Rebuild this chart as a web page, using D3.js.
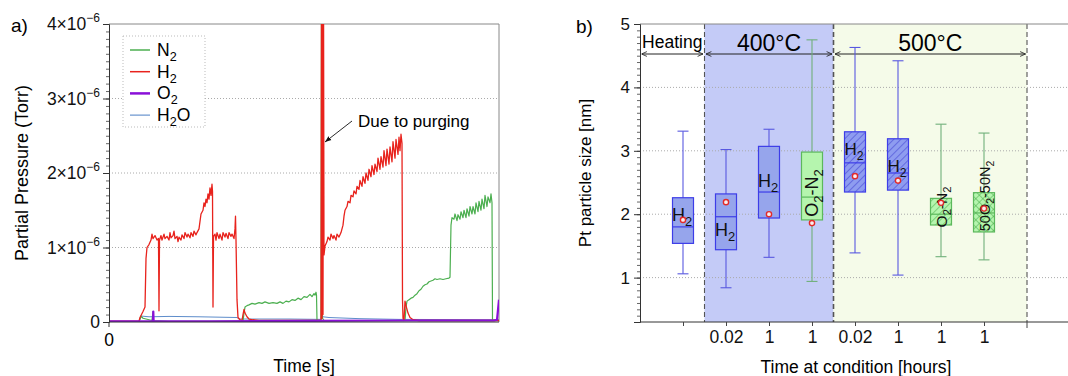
<!DOCTYPE html>
<html>
<head>
<meta charset="utf-8">
<script src="https://cdn.jsdelivr.net/npm/d3@7"></script>
<style>
  body { margin: 0; background: #fff; }
  svg { display: block; font-family: "Liberation Sans", Arial, sans-serif; }
</style>
</head>
<body>
<div id="chart"></div>
<script>
// ---- panel a) data: [time index, pressure in 1e-6 Torr] ----
const h2Series = [[0,0.01],[30,0.01],[31,0.06],[34,0.14],[36,0.2],[37,0.85],[38,1.0],[40,1.04],[42,1.1],[43,1.18],[44,1.12],[46,1.16],[48,1.1],[49.5,1.12],[50,0.15],[50.5,1.1],[52,1.16],[53,1.1],[55,1.18],[56,1.12],[58,1.15],[60,1.1],[61,1.2],[62,1.13],[64,1.16],[65,1.22],[66,1.12],[68,1.15],[69,1.08],[70,1.14],[72,1.1],[73,1.17],[75,1.12],[76,1.2],[78,1.14],[79,1.18],[81,1.13],[82,1.2],[84,1.15],[85,1.22],[87,1.17],[88,1.2],[90,1.25],[91,1.35],[92,1.45],[94,1.5],[95,1.6],[96,1.55],[97,1.65],[98,1.6],[99,1.72],[100,1.65],[101,1.8],[102,1.7],[103,1.85],[103.5,1.75],[104,0.2],[104.5,1.15],[106,1.18],[107,1.1],[108,1.2],[110,1.12],[111,1.18],[113,1.1],[114,1.2],[116,1.14],[117,1.19],[119,1.12],[120,1.2],[122,1.15],[123,1.18],[125,1.12],[126,1.25],[126.5,1.42],[127,1.1],[128,0.3],[129,0.06],[131,0.03],[133,0.02],[134,0.1],[135,0.17],[136,0.12],[138,0.07],[140,0.04],[144,0.03],[150,0.02],[212,0.02],[212.5,4.6],[213,0.05],[213.5,4.6],[214,0.1],[214.5,4.6],[215,0.9],[216,1.02],[218,1.08],[219,1.14],[221,1.1],[222,1.18],[224,1.12],[225,1.16],[227,1.1],[228,1.18],[230,1.14],[232,1.2],[234,1.3],[235,1.42],[236,1.5],[238,1.55],[239,1.62],[241,1.6],[242,1.7],[244,1.68],[245,1.76],[247,1.72],[248,1.82],[250,1.78],[251,1.9],[253,1.82],[254,1.95],[256,1.86],[257,2.0],[259,1.9],[260,2.05],[262,1.95],[263,2.1],[265,1.98],[266,2.12],[268,2.02],[269,2.2],[271,2.05],[272,2.22],[274,2.08],[275,2.3],[277,2.1],[278,2.32],[280,2.12],[281,2.35],[283,2.15],[284,2.42],[286,2.2],[287,2.45],[289,2.25],[290,2.48],[291,2.3],[292,2.52],[293,2.4],[293.5,0.3],[294,0.05],[295,0.02],[296,0.28],[297,0.22],[299,0.12],[301,0.06],[304,0.03],[310,0.02],[390,0.02]];
const n2Series = [[0,0],[30,0],[32,0.08],[34,0.05],[40,0.03],[43,0.02],[44,0.14],[44.5,0.02],[60,0.01],[134,0.01],[135,0.12],[136,0.2],[138,0.22],[140,0.23],[143,0.25],[146,0.24],[150,0.26],[153,0.25],[156,0.27],[160,0.25],[164,0.26],[168,0.25],[171,0.27],[174,0.25],[177,0.28],[180,0.27],[183,0.3],[186,0.29],[189,0.32],[192,0.3],[195,0.34],[198,0.33],[201,0.37],[203,0.34],[205,0.38],[206,0.36],[207,0.4],[207.5,0.36],[208,0.02],[212,0.02],[212.5,4.6],[213,0.3],[213.5,0.05],[215,0.02],[296,0.02],[297,0.2],[298,0.28],[300,0.3],[302,0.32],[304,0.33],[306,0.36],[308,0.38],[310,0.42],[312,0.44],[314,0.48],[316,0.5],[318,0.51],[320,0.54],[322,0.55],[324,0.56],[326,0.58],[328,0.57],[331,0.58],[334,0.57],[337,0.58],[340,0.59],[341,0.6],[342,1.3],[343,1.4],[345,1.38],[346,1.45],[348,1.36],[349,1.44],[351,1.38],[352,1.48],[354,1.4],[355,1.5],[357,1.4],[358,1.52],[360,1.42],[361,1.55],[363,1.45],[364,1.55],[366,1.45],[367,1.6],[369,1.48],[370,1.62],[372,1.5],[373,1.65],[375,1.52],[376,1.7],[378,1.55],[379,1.68],[381,1.6],[382,1.72],[383,1.6],[383.5,0.02],[390,0.02]];
const o2Series = [[0,0.01],[30,0.01],[44,0.01],[44.3,0.14],[44.6,0.01],[100,0.01],[200,0.015],[300,0.02],[385,0.02],[388,0.03],[390,0.3]];
const h2oSeries = [[0,0],[30,0],[32,0.08],[40,0.07],[60,0.075],[90,0.07],[128,0.06],[130,0.04],[180,0.04],[212,0.035],[214,0.07],[220,0.06],[250,0.045],[290,0.035],[390,0.03]];
const gasNames = ["N2", "H2", "O2", "H2O"];
const pressureTicks = [0, 1, 2, 3, 4];

// ---- panel b) data ----
const boxPos = [1, 2, 3, 4, 5, 6, 7, 8];
const boxTimeLabels = ["", "0.02", "1", "1", "0.02", "1", "1", "1"];
const boxGas = ["H2", "H2", "H2", "O2-N2", "H2", "H2", "O2-N2", "50O2-50N2"];
const whiskerLow = [1.06, 0.84, 1.32, 0.94, 1.39, 1.04, 1.33, 1.28];
const q1 = [1.54, 1.44, 1.94, 1.91, 2.35, 2.38, 1.83, 1.72];
const median = [1.80, 1.96, 2.35, 2.27, 2.81, 2.65, 2.00, 2.02];
const q3 = [2.26, 2.32, 3.07, 2.98, 3.30, 3.19, 2.25, 2.34];
const whiskerHigh = [3.31, 3.02, 3.34, 4.75, 4.63, 4.42, 3.42, 3.28];
const meanSize = [1.91, 2.19, 2.00, 1.86, 2.60, 2.53, 2.18, 2.09];
const sizeTicks = [1, 2, 3, 4, 5];
const stages = [{name: "Heating", from: 0, to: 1.5}, {name: "400°C", from: 1.5, to: 4.5}, {name: "500°C", from: 4.5, to: 9}];

const svg = d3.select("#chart").append("svg").attr("width", 1068).attr("height", 376);
const defs = svg.append("defs");

// helper: text with subscript digits (H2 -> H₂ style via tspans)
function chemText(sel, str, size) {
    const parts = str.match(/(\d+|[^\d]+)/g);
    let prevLetter = false;
    parts.forEach((p, i) => {
        const isNum = /^\d+$/.test(p);
        // digits right after a letter are subscripts, leading numbers (50O2) are normal
        const sub = isNum && i > 0 && /[A-Za-z]$/.test(parts[i - 1]);
        const t = sel.append("tspan").text(p);
        if (sub) {
            t.attr("font-size", size * 0.72).attr("dy", size * 0.28);
            prevLetter = true;
        } else if (prevLetter) {
            t.attr("dy", -size * 0.28);
            prevLetter = false;
        }
    });
}

/* ================= panel a ================= */
const xA = d3.scaleLinear().domain([0, 390]).range([109, 499]);
const yA = d3.scaleLinear().domain([0, 4]).range([322, 24]);

const gA = svg.append("g");

// grid
gA.selectAll(".gridA").data([1, 2, 3]).enter().append("line")
    .attr("x1", 109).attr("x2", 499)
    .attr("y1", d => yA(d)).attr("y2", d => yA(d))
    .attr("stroke", "#aaa").attr("stroke-dasharray", "1,2");

// frame
gA.append("line").attr("x1", 109).attr("x2", 499).attr("y1", 24).attr("y2", 24).attr("stroke", "#888");
gA.append("line").attr("x1", 499).attr("x2", 499).attr("y1", 24).attr("y2", 322).attr("stroke", "#888");

defs.append("clipPath").attr("id", "clipA").append("rect")
    .attr("x", 109).attr("y", 24).attr("width", 390).attr("height", 298);

const lineA = d3.line().x(d => xA(d[0])).y(d => yA(d[1]));
const seriesList = [
    {data: h2oSeries, color: "#4b7fc4", w: 0.9},
    {data: n2Series, color: "#4caf50", w: 1.2},
    {data: h2Series, color: "#e8231d", w: 1.3},
    {data: o2Series, color: "#8a10d8", w: 2.2}
];
const linesG = gA.append("g").attr("clip-path", "url(#clipA)");
seriesList.forEach(s => {
    linesG.append("path").datum(s.data).attr("d", lineA)
        .attr("fill", "none").attr("stroke", s.color).attr("stroke-width", s.w)
        .attr("stroke-linejoin", "round");
});

// y axis with minor ticks
gA.append("g").attr("transform", "translate(109,0)")
    .call(d3.axisLeft(yA).tickValues(d3.range(0, 4.001, 0.1)).tickSize(3).tickFormat(""))
    .call(g => g.select(".domain").remove())
    .selectAll("line").attr("stroke", "#666");
const yAxisA = gA.append("g").attr("transform", "translate(109,0)")
    .call(d3.axisLeft(yA).tickValues(pressureTicks).tickSize(6).tickFormat(""));
yAxisA.select(".domain").attr("stroke", "#333");
yAxisA.selectAll("line").attr("stroke", "#333");
pressureTicks.forEach(v => {
    const t = gA.append("text").attr("x", 100).attr("y", yA(v) + 6)
        .attr("text-anchor", "end").attr("font-size", 17.5).attr("fill", "#111");
    if (v === 0) { t.text("0"); return; }
    t.append("tspan").text(v + "×10");
    t.append("tspan").text("−6").attr("font-size", 12).attr("dy", -8);
});

// x axis
gA.append("line").attr("x1", 109).attr("x2", 499).attr("y1", 322).attr("y2", 322).attr("stroke", "#333");
gA.append("line").attr("x1", xA(0)).attr("x2", xA(0)).attr("y1", 322).attr("y2", 327).attr("stroke", "#333");
gA.append("text").attr("x", xA(0)).attr("y", 346).attr("text-anchor", "middle").attr("font-size", 17.5).text("0");
gA.append("text").attr("x", 304).attr("y", 372).attr("text-anchor", "middle").attr("font-size", 17.5).text("Time [s]");
gA.append("text").attr("transform", "translate(28,173) rotate(-90)").attr("text-anchor", "middle")
    .attr("font-size", 18).text("Partial Pressure (Torr)");
gA.append("text").attr("x", 11).attr("y", 32).attr("font-size", 19).text("a)");

// legend
gA.append("rect").attr("x", 123).attr("y", 36).attr("width", 82).attr("height", 91)
    .attr("fill", "#fff").attr("stroke", "#bbb").attr("stroke-dasharray", "1,2");
const legendColors = ["#4caf50", "#e8231d", "#8a10d8", "#4b7fc4"];
const legendW = [1.5, 1.5, 2.5, 1];
gasNames.forEach((g, i) => {
    const y = 50 + i * 21.7;
    gA.append("line").attr("x1", 130).attr("x2", 150).attr("y1", y).attr("y2", y)
        .attr("stroke", legendColors[i]).attr("stroke-width", legendW[i]);
    const t = gA.append("text").attr("x", 157).attr("y", y + 6).attr("font-size", 17.5);
    chemText(t, g, 17.5);
});

// annotation
defs.append("marker").attr("id", "arrA").attr("viewBox", "0 0 10 10").attr("refX", 10).attr("refY", 5)
    .attr("markerWidth", 7).attr("markerHeight", 7).attr("orient", "auto")
    .append("path").attr("d", "M0,1 L10,5 L0,9 Z").attr("fill", "#111");
gA.append("line").attr("x1", 352).attr("y1", 121).attr("x2", 325).attr("y2", 142)
    .attr("stroke", "#111").attr("stroke-width", 0.9).attr("marker-end", "url(#arrA)");
gA.append("text").attr("x", 358).attr("y", 127).attr("font-size", 17).text("Due to purging");

/* ================= panel b ================= */
const xB = d3.scaleLinear().domain([0, 10]).range([640, 1070]);
const yB = d3.scaleLinear().domain([0.3, 5]).range([322, 24]);
const gB = svg.append("g");

// stage shading
const stageFill = ["#ffffff", "#c4cbf7", "#f5fbe9"];
stages.forEach((s, i) => {
    gB.append("rect").attr("x", xB(s.from)).attr("y", 24)
        .attr("width", xB(s.to) - xB(s.from)).attr("height", 298).attr("fill", stageFill[i]);
});

// grid
gB.selectAll(".gridB").data([1, 2, 3, 4]).enter().append("line")
    .attr("x1", 640).attr("x2", 1068)
    .attr("y1", d => yB(d)).attr("y2", d => yB(d))
    .attr("stroke", "#aaa").attr("stroke-dasharray", "1,2");

// dashed boundaries
[1.5, 4.5, 9].forEach(v => {
    gB.append("line").attr("x1", xB(v)).attr("x2", xB(v)).attr("y1", 24).attr("y2", 322)
        .attr("stroke", "#555").attr("stroke-width", v === 4.5 ? 1.6 : 1.1).attr("stroke-dasharray", "5,3");
});

// frame top
gB.append("line").attr("x1", 640).attr("x2", 1068).attr("y1", 24).attr("y2", 24).attr("stroke", "#888");

// stage arrows and titles
defs.append("marker").attr("id", "arrB").attr("viewBox", "0 0 10 10").attr("refX", 10).attr("refY", 5)
    .attr("markerWidth", 6).attr("markerHeight", 6).attr("orient", "auto-start-reverse")
    .append("path").attr("d", "M1,1 L10,5 L1,9").attr("fill", "none").attr("stroke", "#222").attr("stroke-width", 1.4);
stages.forEach((s, i) => {
    gB.append("line").attr("x1", xB(s.from) + 1.5).attr("x2", xB(s.to) - 1.5).attr("y1", 54).attr("y2", 54)
        .attr("stroke", "#222").attr("stroke-width", 1)
        .attr("marker-start", "url(#arrB)").attr("marker-end", "url(#arrB)");
    gB.append("text").attr("x", (xB(s.from) + xB(s.to)) / 2).attr("y", i === 0 ? 48 : 51)
        .attr("text-anchor", "middle").attr("font-size", i === 0 ? 17.5 : 23).text(s.name);
});

// hatch patterns
function hatch(id, color, cross) {
    const p = defs.append("pattern").attr("id", id).attr("patternUnits", "userSpaceOnUse")
        .attr("width", 5).attr("height", 5).attr("patternTransform", "rotate(45)");
    p.append("line").attr("x1", 0).attr("y1", 0).attr("x2", 0).attr("y2", 5)
        .attr("stroke", color).attr("stroke-width", 1);
    if (cross) p.append("line").attr("x1", 0).attr("y1", 0).attr("x2", 5).attr("y2", 0)
        .attr("stroke", color).attr("stroke-width", 1);
}
hatch("hBlue", "#3a3ad0", false);
hatch("hGreen", "#45a845", false);
hatch("xGreen", "#45a845", true);

const isGreen = i => boxGas[i] !== "H2";
const boxFill = ["#96a5ec", "#96a5ec", "#96a5ec", "#b5f5ae", "#8e9cf0", "#8e9cf0", "#b5f5ae", "#b5f5ae"];
const boxHatch = [null, null, null, null, "hBlue", "hBlue", "hGreen", "xGreen"];
const boxW = 21, capW = 11;

boxPos.forEach((p, i) => {
    const cx = xB(p);
    const stroke = isGreen(i) ? "#5cb85c" : "#3d3de8";
    const wStroke = isGreen(i) ? "#70b07a" : "#5858e0";
    const g = gB.append("g");
    // whiskers
    g.append("line").attr("x1", cx).attr("x2", cx).attr("y1", yB(whiskerHigh[i])).attr("y2", yB(whiskerLow[i]))
        .attr("stroke", wStroke).attr("stroke-width", 1.1);
    [whiskerHigh[i], whiskerLow[i]].forEach(v => {
        g.append("line").attr("x1", cx - capW / 2).attr("x2", cx + capW / 2).attr("y1", yB(v)).attr("y2", yB(v))
            .attr("stroke", wStroke).attr("stroke-width", 1.1);
    });
    // box
    g.append("rect").attr("x", cx - boxW / 2).attr("y", yB(q3[i])).attr("width", boxW)
        .attr("height", yB(q1[i]) - yB(q3[i])).attr("fill", boxFill[i]);
    if (boxHatch[i]) {
        g.append("rect").attr("x", cx - boxW / 2).attr("y", yB(q3[i])).attr("width", boxW)
            .attr("height", yB(q1[i]) - yB(q3[i])).attr("fill", "url(#" + boxHatch[i] + ")");
    }
    g.append("rect").attr("x", cx - boxW / 2).attr("y", yB(q3[i])).attr("width", boxW)
        .attr("height", yB(q1[i]) - yB(q3[i])).attr("fill", "none").attr("stroke", stroke).attr("stroke-width", 1.2);
    g.append("line").attr("x1", cx - boxW / 2).attr("x2", cx + boxW / 2).attr("y1", yB(median[i])).attr("y2", yB(median[i]))
        .attr("stroke", stroke).attr("stroke-width", 1.2);
});

// box labels (drawn before mean dots)
const labelY = [221, 236, 187, 193, 155, 172, 207, 196];
const labelSize = [18, 18, 18, 18, 17, 17, 15.5, 14.5];
boxPos.forEach((p, i) => {
    const cx = xB(p);
    if (boxGas[i] === "H2") {
        const t = gB.append("text").attr("x", cx - 1).attr("y", labelY[i]).attr("text-anchor", "middle")
            .attr("font-size", labelSize[i]).attr("fill", "#111");
        chemText(t, boxGas[i], labelSize[i]);
    } else {
        const t = gB.append("text").attr("transform", `translate(${cx + 6},${labelY[i]}) rotate(-90)`)
            .attr("text-anchor", "middle").attr("font-size", labelSize[i]).attr("fill", "#111");
        chemText(t, boxGas[i], labelSize[i]);
    }
});

// means
gB.selectAll(".mean").data(meanSize).enter().append("circle")
    .attr("cx", (d, i) => xB(boxPos[i])).attr("cy", d => yB(d)).attr("r", 2.6)
    .attr("fill", "#fbeeee").attr("stroke", "#e22a2a").attr("stroke-width", 1.4);

// y axis
gB.append("g").attr("transform", "translate(640,0)")
    .call(d3.axisLeft(yB).tickValues(d3.range(0.3, 5.001, 0.1).map(v => +v.toFixed(1))).tickSize(3).tickFormat(""))
    .call(g => g.select(".domain").remove())
    .selectAll("line").attr("stroke", "#666");
const yAxisB = gB.append("g").attr("transform", "translate(640,0)")
    .call(d3.axisLeft(yB).tickValues(sizeTicks).tickSize(6).tickFormat(d3.format("d")));
yAxisB.select(".domain").attr("stroke", "#333");
yAxisB.selectAll("line").attr("stroke", "#333");
yAxisB.selectAll("text").attr("font-size", 17).attr("fill", "#111").attr("font-family", "Liberation Sans, Arial, sans-serif")
    .attr("x", -10);

// x axis
const xAxisB = gB.append("g").attr("transform", "translate(0,322)")
    .call(d3.axisBottom(xB).tickValues(boxPos).tickSize(4).tickFormat((d, i) => boxTimeLabels[i]));
xAxisB.select(".domain").attr("d", "M640,0H1068").attr("stroke", "#333");
xAxisB.selectAll("line").attr("stroke", "#444");
xAxisB.selectAll("text").attr("font-size", 17.5).attr("fill", "#111").attr("font-family", "Liberation Sans, Arial, sans-serif")
    .attr("y", 9);
gB.append("line").attr("x1", xB(9)).attr("x2", xB(9)).attr("y1", 322).attr("y2", 328).attr("stroke", "#444");

gB.append("text").attr("x", 856).attr("y", 373).attr("text-anchor", "middle").attr("font-size", 17.5)
    .text("Time at condition [hours]");
gB.append("text").attr("transform", "translate(591,173) rotate(-90)").attr("text-anchor", "middle")
    .attr("font-size", 17).text("Pt particle size [nm]");
gB.append("text").attr("x", 576).attr("y", 33).attr("font-size", 19).text("b)");
</script>
</body>
</html>
